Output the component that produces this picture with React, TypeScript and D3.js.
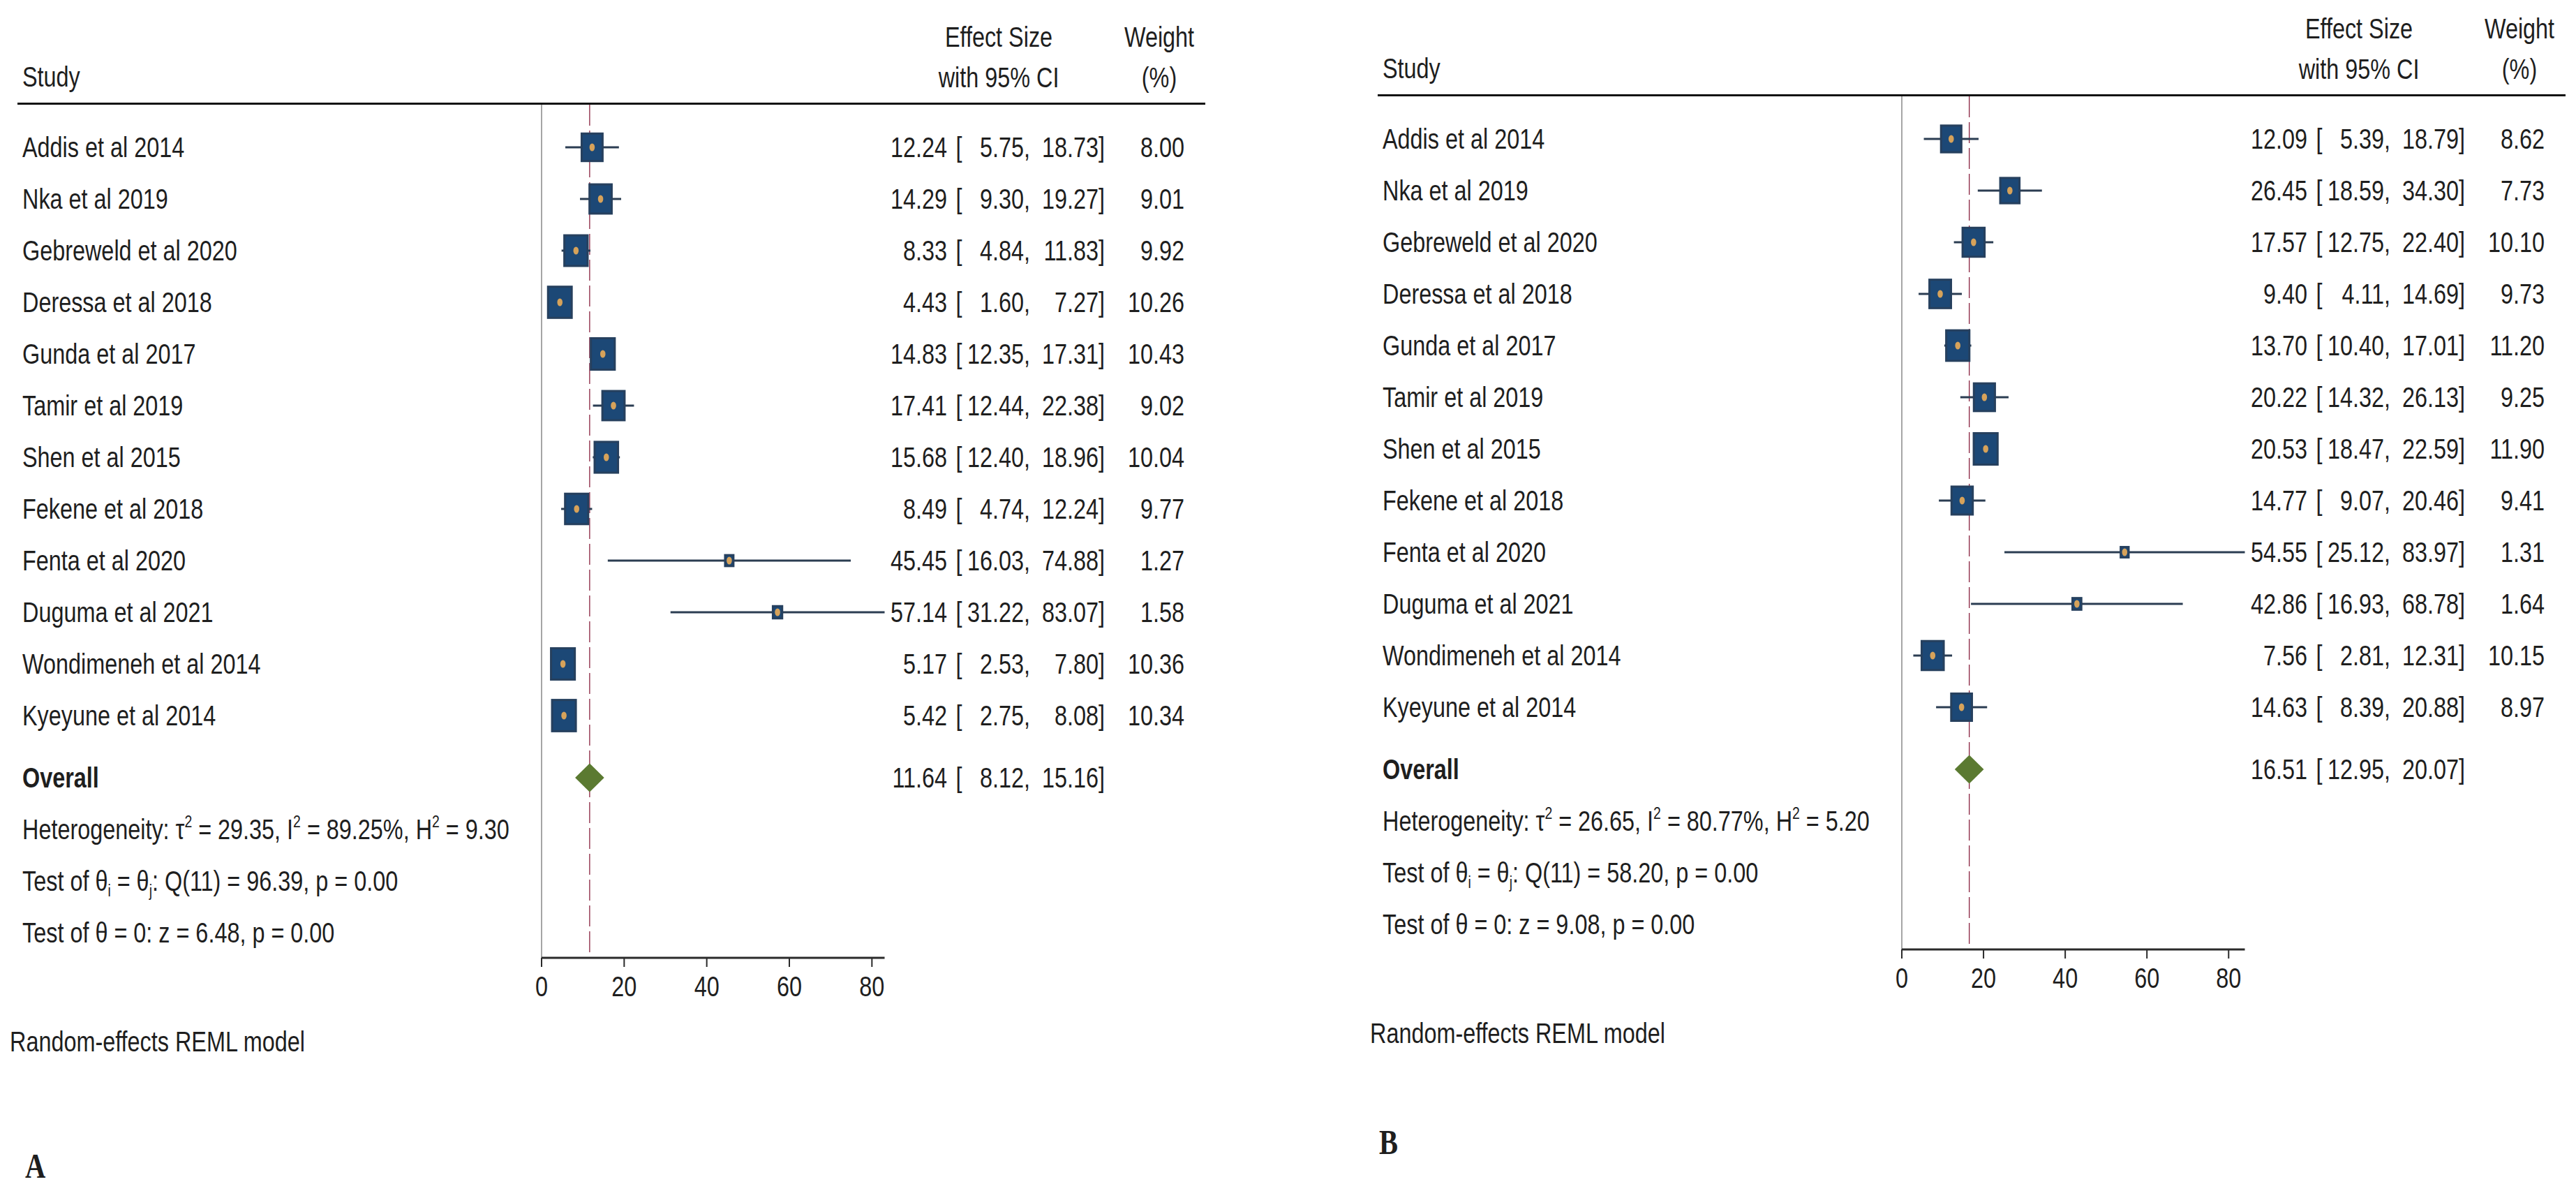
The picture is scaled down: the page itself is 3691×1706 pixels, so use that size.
import React from "react";
import * as d3 from "d3";

// ---------- data ----------
const studies = [
  "Addis et al 2014",
  "Nka et al 2019",
  "Gebreweld et al 2020",
  "Deressa et al 2018",
  "Gunda et al 2017",
  "Tamir et al 2019",
  "Shen et al 2015",
  "Fekene et al 2018",
  "Fenta et al 2020",
  "Duguma et al 2021",
  "Wondimeneh et al 2014",
  "Kyeyune et al 2014",
];

const esA = [12.24, 14.29, 8.33, 4.43, 14.83, 17.41, 15.68, 8.49, 45.45, 57.14, 5.17, 5.42];
const loA = [5.75, 9.3, 4.84, 1.6, 12.35, 12.44, 12.4, 4.74, 16.03, 31.22, 2.53, 2.75];
const hiA = [18.73, 19.27, 11.83, 7.27, 17.31, 22.38, 18.96, 12.24, 74.88, 83.07, 7.8, 8.08];
const wA = [8.0, 9.01, 9.92, 10.26, 10.43, 9.02, 10.04, 9.77, 1.27, 1.58, 10.36, 10.34];
const overallA = [11.64, 8.12, 15.16];
const hetA = ["29.35", "89.25", "9.30"];
const qA = ["96.39", "0.00"];
const zA = ["6.48", "0.00"];

const esB = [12.09, 26.45, 17.57, 9.4, 13.7, 20.22, 20.53, 14.77, 54.55, 42.86, 7.56, 14.63];
const loB = [5.39, 18.59, 12.75, 4.11, 10.4, 14.32, 18.47, 9.07, 25.12, 16.93, 2.81, 8.39];
const hiB = [18.79, 34.3, 22.4, 14.69, 17.01, 26.13, 22.59, 20.46, 83.97, 68.78, 12.31, 20.88];
const wB = [8.62, 7.73, 10.1, 9.73, 11.2, 9.25, 11.9, 9.41, 1.31, 1.64, 10.15, 8.97];
const overallB = [16.51, 12.95, 20.07];
const hetB = ["26.65", "80.77", "5.20"];
const qB = ["58.20", "0.00"];
const zB = ["9.08", "0.00"];

const tickValues = [0, 20, 40, 60, 80];

// ---------- style ----------
const SX = 0.81;
const FS = 40;
const FONT = "'Liberation Sans', Arial, Helvetica, sans-serif";
const TXT = "#1e1e1e";
const BOX = "#1c4876";
const BOX_EDGE = "#26405e";
const CI = "#2b3d52";
const DOT = "#d6a25a";
const DIAMOND = "#5b7a31";
const REF = "#8a2440";

function T({ x, y, anchor = "start", size = FS, weight = "normal", family = FONT, children }: any) {
  return (
    <text
      transform={`translate(${x},${y}) scale(${SX},1)`}
      textAnchor={anchor}
      fontSize={size}
      fontWeight={weight}
      fontFamily={family}
      fill={TXT}
    >
      {children}
    </text>
  );
}

const f2 = (v: number) => v.toFixed(2);

function Panel({ dx, dy, es, lo, hi, w, overall, het, q, z }: any) {
  const x = d3.scaleLinear().domain([0, d3.max(hi) as number]).range([776, 1267.5]);
  const size = d3.scaleSqrt().domain([0, d3.max(w) as number]).range([0, 45]);
  const rowY = (i: number) => 211 + i * 74;
  const overallY = 1114;
  const ruleY = 148.5;
  const axisY = 1372;
  const base = 14.3;
  const colES = 1357;
  const colBr = 1369.5;
  const colLo = 1476;
  const colHi = 1583;
  const colW = 1697;
  const sup = { fontSize: 24, dy: -17 };

  const oh = 20.5;
  const diamond = [
    [x(overall[1]), overallY],
    [x(overall[0]), overallY - oh],
    [x(overall[2]), overallY],
    [x(overall[0]), overallY + oh],
  ];

  return (
    <g transform={`translate(${dx},${dy})`}>
      {/* header */}
      <T x={32} y={124}>Study</T>
      <T x={1431} y={67} anchor="middle">Effect Size</T>
      <T x={1431} y={125} anchor="middle">with 95% CI</T>
      <T x={1661} y={67} anchor="middle">Weight</T>
      <T x={1661} y={125} anchor="middle">(%)</T>
      <line x1={25} x2={1727} y1={ruleY} y2={ruleY} stroke="#111" strokeWidth={3.2} />

      {/* zero line & reference line */}
      <line x1={x(0)} x2={x(0)} y1={ruleY + 1.5} y2={axisY} stroke="#9c9c9c" strokeWidth={1.8} />
      <line
        x1={x(overall[0])}
        x2={x(overall[0])}
        y1={ruleY + 1.5}
        y2={axisY}
        stroke={REF}
        strokeWidth={1.3}
        strokeDasharray="30 7"
      />

      {/* studies */}
      {studies.map((s, i) => {
        const y = rowY(i);
        const h = size(w[i]);
        const bw = h * 0.76;
        return (
          <g key={s}>
            <T x={32} y={y + base}>{s}</T>
            <line x1={x(lo[i])} x2={x(hi[i])} y1={y} y2={y} stroke={CI} strokeWidth={3} />
            <rect
              x={x(es[i]) - bw / 2}
              y={y - h / 2}
              width={bw}
              height={h}
              fill={BOX}
              stroke={BOX_EDGE}
              strokeWidth={3}
            />
            <ellipse cx={x(es[i])} cy={y} rx={3.8} ry={5.6} fill={DOT} />
            <T x={colES} y={y + base} anchor="end">{f2(es[i])}</T>
            <T x={colBr} y={y + base}>[</T>
            <T x={colLo} y={y + base} anchor="end">{f2(lo[i]) + ","}</T>
            <T x={colHi} y={y + base} anchor="end">{f2(hi[i]) + "]"}</T>
            <T x={colW} y={y + base} anchor="end">{f2(w[i])}</T>
          </g>
        );
      })}

      {/* overall */}
      <T x={32} y={overallY + base} weight="bold">Overall</T>
      <polygon points={diamond.map((p) => p.join(",")).join(" ")} fill={DIAMOND} />
      <T x={colES} y={overallY + base} anchor="end">{f2(overall[0])}</T>
      <T x={colBr} y={overallY + base}>[</T>
      <T x={colLo} y={overallY + base} anchor="end">{f2(overall[1]) + ","}</T>
      <T x={colHi} y={overallY + base} anchor="end">{f2(overall[2]) + "]"}</T>

      {/* statistics */}
      <T x={32} y={1188 + base}>
        {"Heterogeneity: τ"}
        <tspan fontSize={sup.fontSize} dy={sup.dy}>2</tspan>
        <tspan dy={17}>{" = " + het[0] + ", I"}</tspan>
        <tspan fontSize={sup.fontSize} dy={sup.dy}>2</tspan>
        <tspan dy={17}>{" = " + het[1] + "%, H"}</tspan>
        <tspan fontSize={sup.fontSize} dy={sup.dy}>2</tspan>
        <tspan dy={17}>{" = " + het[2]}</tspan>
      </T>
      <T x={32} y={1262 + base}>
        {"Test of θ"}
        <tspan fontSize={24} dy={8}>i</tspan>
        <tspan dy={-8}>{" = θ"}</tspan>
        <tspan fontSize={24} dy={8}>j</tspan>
        <tspan dy={-8}>{": Q(11) = " + q[0] + ", p = " + q[1]}</tspan>
      </T>
      <T x={32} y={1336 + base}>{"Test of θ = 0: z = " + z[0] + ", p = " + z[1]}</T>

      {/* axis */}
      <line x1={x(0)} x2={x.range()[1]} y1={axisY} y2={axisY} stroke="#2a2a2a" strokeWidth={3} />
      {tickValues.map((t) => (
        <g key={t}>
          <line x1={x(t)} x2={x(t)} y1={axisY} y2={axisY + 13} stroke="#2a2a2a" strokeWidth={2} />
          <T x={x(t)} y={1413 + base} anchor="middle">{String(t)}</T>
        </g>
      ))}

      <T x={14} y={1492 + base}>Random-effects REML model</T>
    </g>
  );
}

export default function App() {
  return (
    <svg
      width={3691}
      height={1706}
      viewBox="0 0 3691 1706"
      style={{ position: "absolute", left: 0, top: 0, background: "#fff" }}
    >
      <rect x={0} y={0} width={3691} height={1706} fill="#fff" />
      <Panel dx={0} dy={0} es={esA} lo={loA} hi={hiA} w={wA} overall={overallA} het={hetA} q={qA} z={zA} />
      <Panel dx={1949} dy={-12} es={esB} lo={loB} hi={hiB} w={wB} overall={overallB} het={hetB} q={qB} z={zB} />
      <T x={36} y={1687} size={50} weight="bold" family="'Liberation Serif', 'Times New Roman', serif">A</T>
      <T x={1976} y={1653} size={50} weight="bold" family="'Liberation Serif', 'Times New Roman', serif">B</T>
    </svg>
  );
}
